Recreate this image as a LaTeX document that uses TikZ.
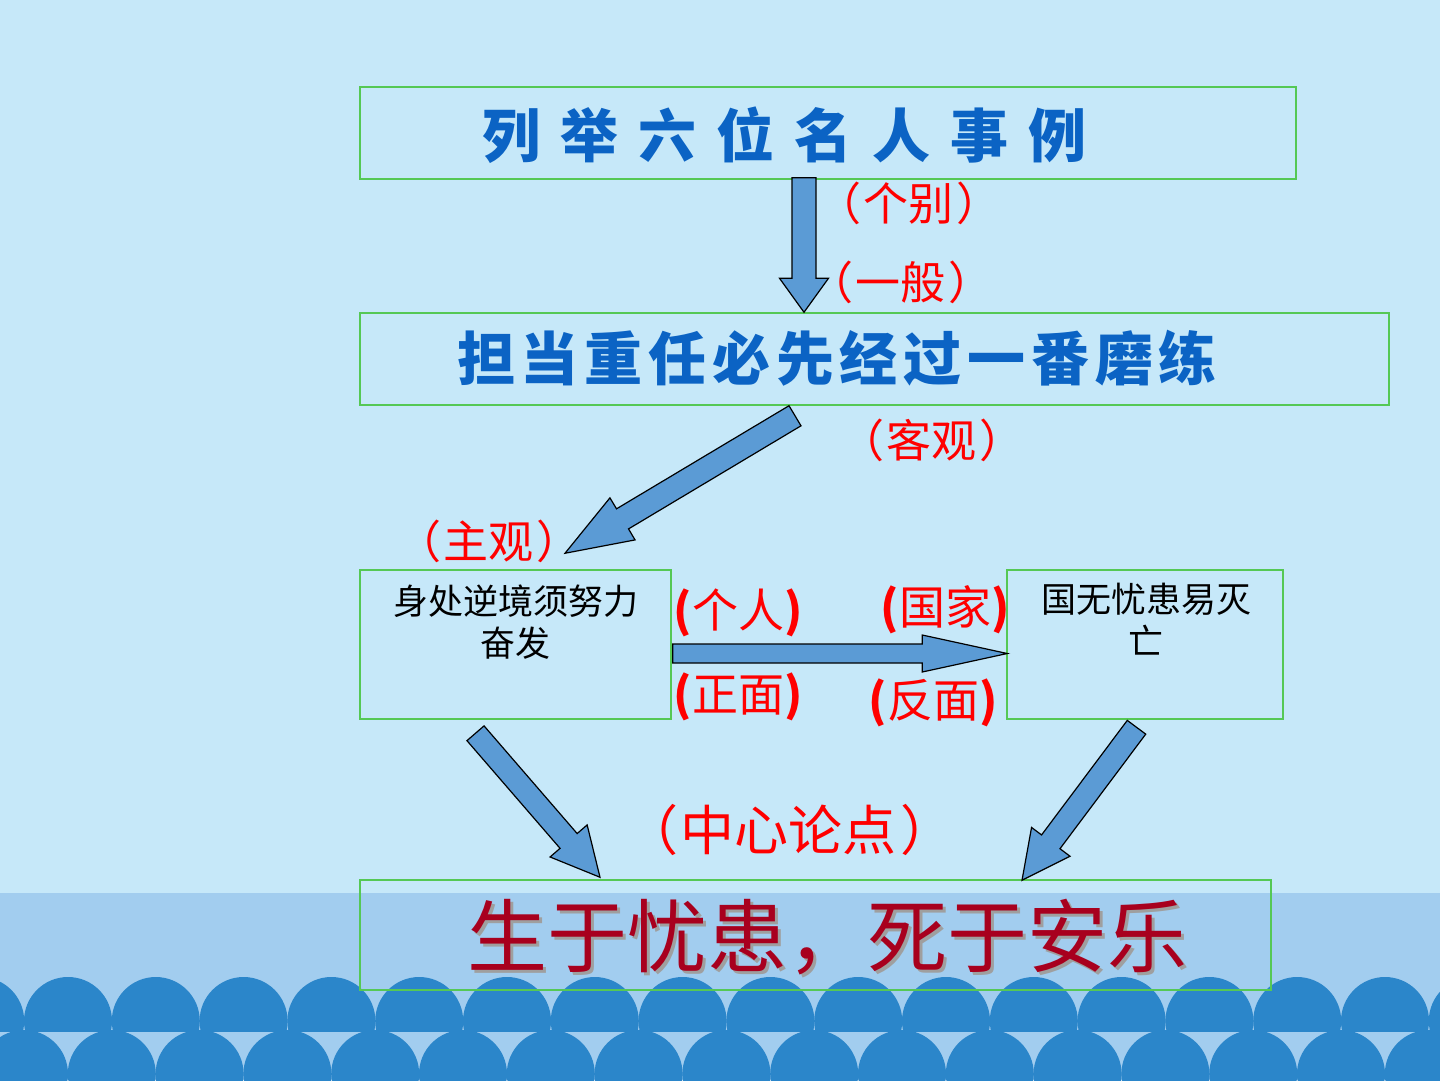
\documentclass[tikz,border=0pt]{standalone}
\usepackage{fontspec}
\setmainfont{Noto Sans CJK SC}
\usetikzlibrary{calc}
\definecolor{bgf}{HTML}{C6E8F9}
\definecolor{bandf}{HTML}{A2CDEF}
\definecolor{wavef}{HTML}{2B86CA}
\definecolor{boxb}{HTML}{55C855}
\definecolor{arrf}{HTML}{5B9BD5}
\definecolor{tblue}{HTML}{0B63C4}
\definecolor{tred}{HTML}{FF0000}
\definecolor{tcrim}{HTML}{A8001E}

% block arrow #1 -> #2, shaft half width #3, head half width #4, head length #5
\newcommand\blockarrow[5]{%
  \coordinate (hb) at ($(#2)!#5!(#1)$);
  \filldraw[barrow] ($(#1)!#3!90:(#2)$) -- ($(hb)!#3!90:(#2)$) -- ($(hb)!#4!90:(#2)$) -- (#2)
    -- ($(hb)!#4!-90:(#2)$) -- ($(hb)!#3!-90:(#2)$) -- ($(#1)!#3!-90:(#2)$) -- cycle;}
% bold half-width brackets round a label
\newcommand\bpar[1]{\textbf{(}#1\textbf{)}}
% full-width brackets, set a little apart
\newcommand\fpar[1]{（\hspace{3pt}#1\hspace{3pt}）}
% text with a grey drop shadow
\newcommand\shadowtxt[1]{\makebox[0pt][l]{\hspace{3pt}\raisebox{-3pt}{\color{gray!75}#1}}\color{tcrim}#1}

\begin{document}
\begin{tikzpicture}[x=1pt,y=-1pt,
  box/.style={draw=boxb,line width=1.5pt,inner sep=0pt},
  barrow/.style={fill=arrf,draw=black,line width=1.2pt,line join=miter},
  wave/.style={fill=wavef},
  bluetxt/.style={text=tblue,inner sep=0pt},
  redtxt/.style={text=tred,inner sep=0pt,font=\fontsize{45}{50}\selectfont},
  redbold/.style={text=tred,inner sep=0pt,font=\fontsize{46}{52}\selectfont},
  blktxt/.style={text=black,inner sep=0pt,align=center,anchor=north,font=\fontsize{35}{42}\selectfont}]
\useasboundingbox (0,0) rectangle (1440,1080);
% background and waves
\fill[bgf] (0,0) rectangle (1440,1080);
\fill[bandf] (0,893) rectangle (1440,1080);
\begin{scope}
  \clip (0,0) rectangle (1440,1031);
  \foreach \i in {-1,...,16} \fill[wave] ({68+87.8*\i},1021) circle (44pt);
\end{scope}
\foreach \i in {-1,...,17} \fill[wave] ({24+87.8*\i},1074) circle (44pt);
% boxes
\node[box,minimum width=936pt,minimum height=92pt] (b1) at (828,133) {};
\node[box,minimum width=1029pt,minimum height=92pt] (b2) at (874.5,359) {};
\node[box,minimum width=311pt,minimum height=149pt] (b3) at (515.5,644.5) {};
\node[box,minimum width=276pt,minimum height=149pt] (b4) at (1145,644.5) {};
\node[box,minimum width=911pt,minimum height=110pt] (b5) at (815.5,935) {};
% arrows
\coordinate (a1t) at ($(b1.south)+(-24,-2)$);
\coordinate (a1h) at (b2.north -| a1t);
\coordinate (a2t) at ($(b2.south)+(-79.5,10)$);
\coordinate (a2h) at ($(b3.north)+(49.5,-16)$);
\coordinate (a3t) at ($(b3.east)+(1,9)$);
\coordinate (a3h) at ($(b4.west)+(1,9)$);
\coordinate (a4t) at ($(b3.south)+(-40,13.5)$);
\coordinate (a4h) at ($(b5.north)+(-215.5,-2)$);
\coordinate (a5t) at ($(b4.south)+(-8.5,7.5)$);
\coordinate (a5h) at ($(b5.north)+(206.5,1)$);
\blockarrow{a1t}{a1h}{12pt}{24.5pt}{34pt}
\blockarrow{a2t}{a2h}{11.7pt}{24.5pt}{67pt}
\blockarrow{a3t}{a3h}{9.5pt}{18.5pt}{85pt}
\blockarrow{a4t}{a4h}{11.3pt}{24.5pt}{48pt}
\blockarrow{a5t}{a5h}{11.5pt}{24pt}{48pt}
% texts
\node[bluetxt,font=\bfseries\fontsize{58}{64}\selectfont\addfontfeature{LetterSpace=34.5}] (t1) at (785,135) {列举六位名人事例};
\node[bluetxt,font=\bfseries\fontsize{58}{64}\selectfont\addfontfeature{LetterSpace=10}] (t2) at (837,358) {担当重任必先经过一番磨练};
\node[blktxt] (t3) at (515.5,585) {身处逆境须努力\\奋发};
\node[blktxt] (t4) at (1146,583) {国无忧患易灭\\亡};
\node[inner sep=0pt,font=\fontsize{80}{90}\selectfont] (t5) at (827.5,938.5) {\shadowtxt{生于忧患，死于安乐}};
% labels
\node[redtxt] (l1) at (909,203) {\fpar{个别}};
\node[redtxt] (l2) at (901,282) {\fpar{一般}};
\node[redtxt] (l3) at (932,440) {\fpar{客观}};
\node[redtxt] (l4) at (489,541) {\fpar{主观}};
\node[redtxt,font=\fontsize{54}{60}\selectfont] (l5) at (789,830) {\fpar{中心论点}};
\node[redbold] (l6) at (738,613) {\bpar{个人}};
\node[redbold] (l7) at (738,697) {\bpar{正面}};
\node[redbold] (l8) at (945,610) {\bpar{国家}};
\node[redbold] (l9) at (933,703) {\bpar{反面}};
\end{tikzpicture}
\end{document}
